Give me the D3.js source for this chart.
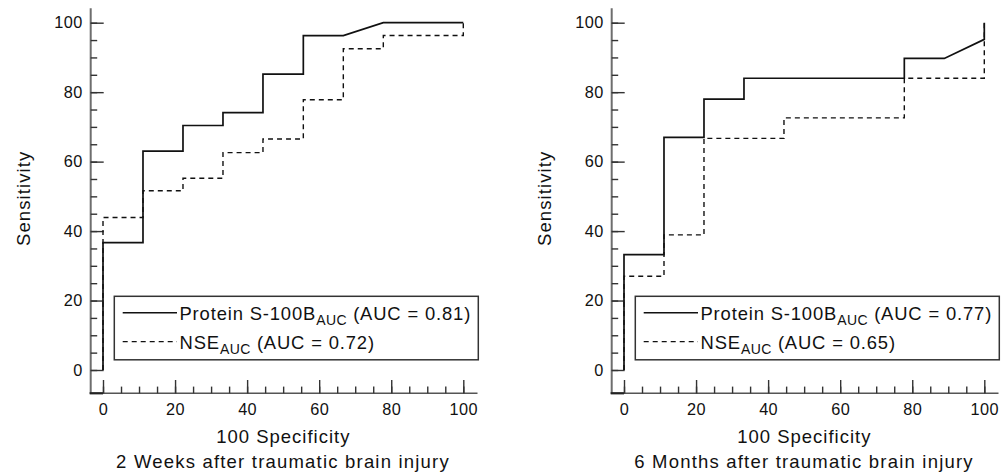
<!DOCTYPE html>
<html>
<head>
<meta charset="utf-8">
<script src="https://cdn.jsdelivr.net/npm/d3@7"></script>
<style>
  html, body { margin: 0; padding: 0; background: #fff; }
  svg { display: block; font-family: "Liberation Sans", Arial, Helvetica, sans-serif; }
</style>
</head>
<body>
<svg id="chart" width="1004" height="473"></svg>
<script>
// ---------------- data ----------------
const xMajorTicks = [0, 20, 40, 60, 80, 100];
const yMajorTicks = [0, 20, 40, 60, 80, 100];
const minorTicks = d3.range(0, 101, 5);

const panelTitles = ["2 Weeks after traumatic brain injury", "6 Months after traumatic brain injury"];
const xLabel = "100 Specificity";
const yLabel = "Sensitivity";
const seriesNames = ["Protein S-100B", "NSE"];
const aucValues2w = ["0.81", "0.72"];
const aucValues6m = ["0.77", "0.65"];

// 2 weeks – protein S-100B (x = 100 - specificity, y = sensitivity)
const s100b2wX = [0, 0, 11.1, 11.1, 22.2, 22.2, 33.3, 33.3, 44.4, 44.4, 55.6, 55.6, 66.7, 77.8, 100];
const s100b2wY = [0, 36.7, 36.7, 63, 63, 70.4, 70.4, 74.1, 74.1, 85.2, 85.2, 96.3, 96.3, 100, 100];
// 2 weeks – NSE
const nse2wX = [0, 0, 11.1, 11.1, 22.2, 22.2, 33.3, 33.3, 44.4, 44.4, 55.6, 55.6, 66.7, 66.7, 77.8, 77.8, 100, 100];
const nse2wY = [0, 43.9, 43.9, 51.6, 51.6, 55.2, 55.2, 62.6, 62.6, 66.5, 66.5, 77.8, 77.8, 92.5, 92.5, 96.3, 96.3, 100];
// 6 months – protein S-100B
const s100b6mX = [0, 0, 11.1, 11.1, 22.2, 22.2, 33.3, 33.3, 77.8, 77.8, 88.9, 100, 100];
const s100b6mY = [0, 33.2, 33.2, 67, 67, 78, 78, 84, 84, 89.7, 89.7, 95.2, 100];
// 6 months – NSE
const nse6mX = [0, 0, 11.1, 11.1, 22.2, 22.2, 44.4, 44.4, 77.8, 77.8, 100, 100];
const nse6mY = [0, 27, 27, 38.9, 38.9, 66.7, 66.7, 72.6, 72.6, 84, 84, 100];

// ---------------- layout ----------------
const svg = d3.select("#chart");
const panelOffsets = [0, 521];
const X0 = 103, X100 = 463.3, Y0 = 370, Y100 = 22.7;
const axisX = 90.7, axisY = 393.3, axisTop = 8.3, axisRight = 477.5;

const panels = [
  { title: panelTitles[0], auc: aucValues2w,
    series: [ {x: s100b2wX, y: s100b2wY, dash: null}, {x: nse2wX, y: nse2wY, dash: "5,4"} ] },
  { title: panelTitles[1], auc: aucValues6m,
    series: [ {x: s100b6mX, y: s100b6mY, dash: null}, {x: nse6mX, y: nse6mY, dash: "5,4"} ] }
];

panels.forEach((p, i) => {
  const dx = panelOffsets[i];
  const g = svg.append("g").attr("transform", `translate(${dx},0)`);
  const x = d3.scaleLinear().domain([0, 100]).range([X0, X100]);
  const y = d3.scaleLinear().domain([0, 100]).range([Y0, Y100]);

  // axis lines
  g.append("line").attr("x1", axisX).attr("x2", axisX).attr("y1", axisTop).attr("y2", axisY)
    .attr("stroke", "#6e6e6e").attr("stroke-width", 2);
  g.append("line").attr("x1", axisX - 1).attr("x2", axisRight).attr("y1", axisY).attr("y2", axisY)
    .attr("stroke", "#555").attr("stroke-width", 1.6);
  g.append("line").attr("x1", axisX - 1).attr("x2", X0).attr("y1", axisY).attr("y2", axisY)
    .attr("stroke", "#222").attr("stroke-width", 2.2);

  // y axis: minor + major ticks pointing inward
  const yMinor = g.append("g").attr("transform", `translate(${axisX},0)`)
    .call(d3.axisLeft(y).tickValues(minorTicks).tickSize(-6.5).tickFormat(""));
  const yMajor = g.append("g").attr("transform", `translate(${axisX},0)`)
    .call(d3.axisLeft(y).tickValues(yMajorTicks).tickSizeInner(-13).tickSizeOuter(0).tickPadding(8));
  // x axis
  const xMinor = g.append("g").attr("transform", `translate(0,${axisY})`)
    .call(d3.axisBottom(x).tickValues(minorTicks).tickSize(-6.7).tickFormat(""));
  const xMajor = g.append("g").attr("transform", `translate(0,${axisY})`)
    .call(d3.axisBottom(x).tickValues(xMajorTicks).tickSizeInner(-13.3).tickSizeOuter(0).tickPadding(10));

  [yMinor, yMajor, xMinor, xMajor].forEach(a => {
    a.select(".domain").remove();
    a.selectAll(".tick line").attr("stroke", "#333").attr("stroke-width", 1.4);
    a.selectAll(".tick text").attr("fill", "#111").style("font-size", "16.3px")
      .style("font-family", '"Liberation Sans", Arial, sans-serif').style("letter-spacing", "0.4px");
  });

  // ROC curves
  const line = d3.line().x(d => x(d[0])).y(d => y(d[1]));
  p.series.forEach(s => {
    const pts = s.x.map((v, k) => [v, s.y[k]]);
    g.append("path").attr("d", line(pts)).attr("fill", "none")
      .attr("stroke", "#111").attr("stroke-width", s.dash ? 1.4 : 1.7)
      .attr("stroke-dasharray", s.dash);
  });

  // legend
  const lg = g.append("g");
  lg.append("rect").attr("x", 114.3).attr("y", 296.3).attr("width", 364).attr("height", 63.5)
    .attr("fill", "#fff").attr("stroke", "#333").attr("stroke-width", 1.5);
  const rows = [312.7, 341.7];
  p.series.forEach((s, k) => {
    lg.append("line").attr("x1", 122.7).attr("x2", 177).attr("y1", rows[k]).attr("y2", rows[k])
      .attr("stroke", "#111").attr("stroke-width", s.dash ? 1.3 : 1.6).attr("stroke-dasharray", s.dash);
    const t = lg.append("text").attr("x", 179.5).attr("y", rows[k] + 6.8)
      .style("font-size", "18.4px").style("letter-spacing", "0.85px").attr("fill", "#111");
    t.append("tspan").text(seriesNames[k]);
    t.append("tspan").attr("dy", 5).style("font-size", "14px").style("letter-spacing", "0.5px").text("AUC");
    t.append("tspan").attr("dy", -5).text(` (AUC = ${p.auc[k]})`);
  });

  // axis titles
  g.append("text").attr("x", 283.3).attr("y", 443.3).attr("text-anchor", "middle")
    .style("font-size", "18.5px").style("letter-spacing", "1px").attr("fill", "#111").text(xLabel);
  g.append("text").attr("transform", `translate(29.8,198.3) rotate(-90)`).attr("text-anchor", "middle")
    .style("font-size", "18.5px").style("letter-spacing", "1.1px").attr("fill", "#111").text(yLabel);
  // panel title
  g.append("text").attr("x", 283).attr("y", 467.8).attr("text-anchor", "middle")
    .style("font-size", "18.5px").style("letter-spacing", "1.2px").attr("fill", "#111").text(p.title);
});
</script>
</body>
</html>
